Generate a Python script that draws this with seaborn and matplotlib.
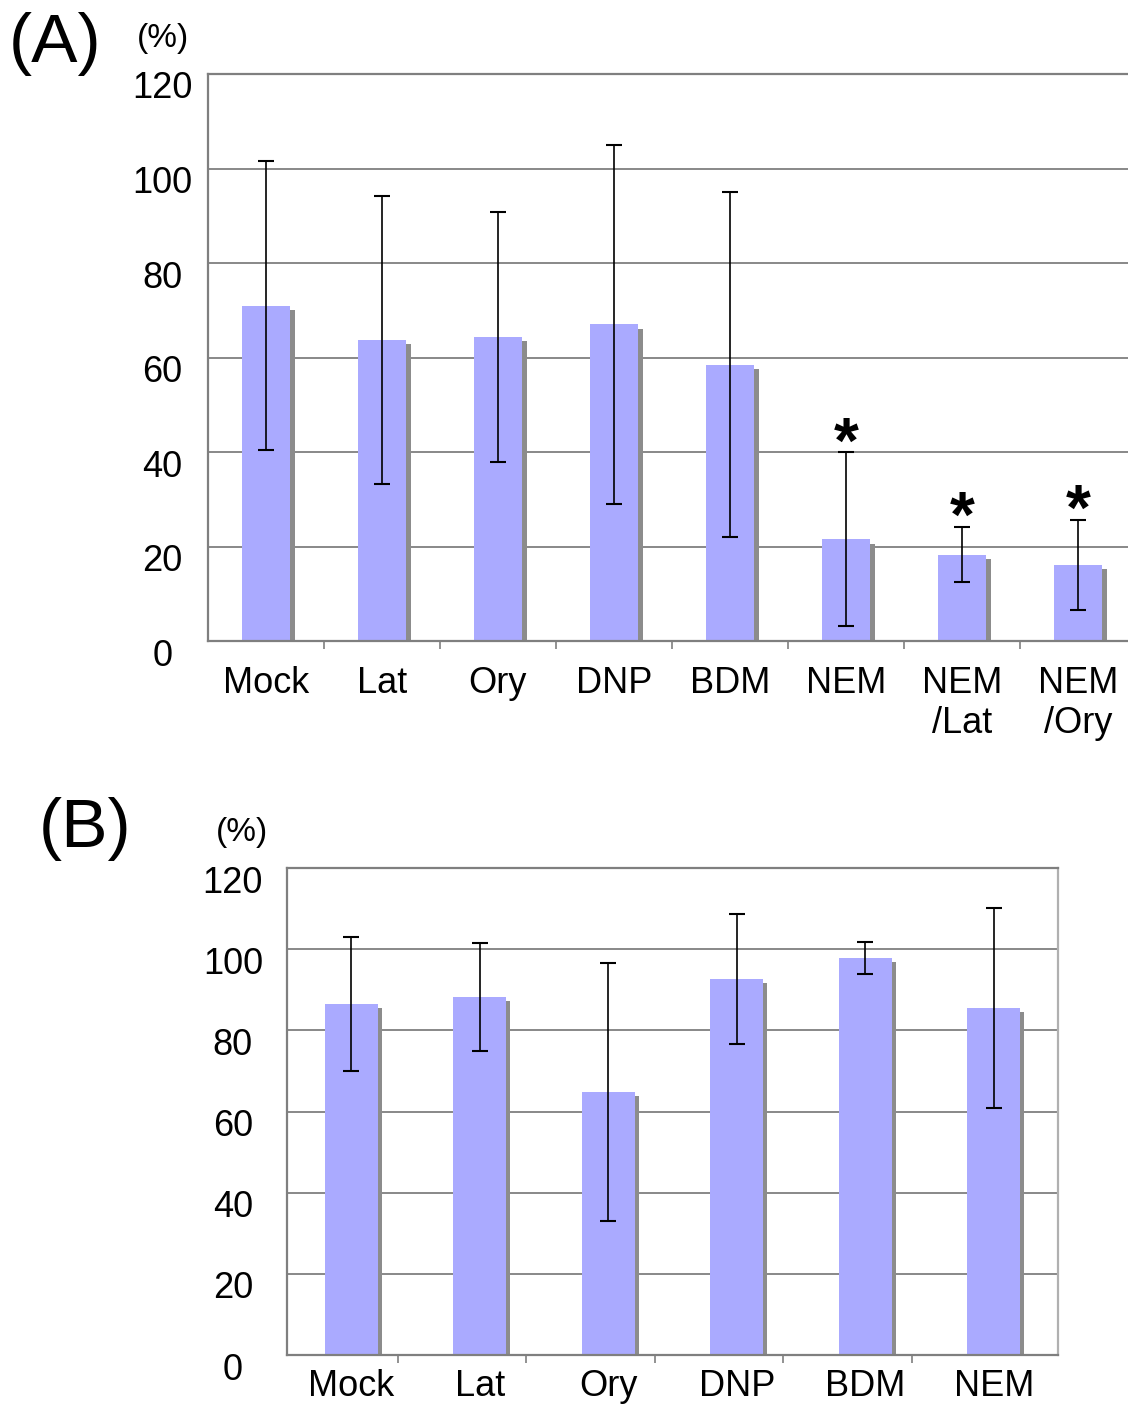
import numpy as np
import pandas as pd
import matplotlib.pyplot as plt
import matplotlib.patheffects as pe
from matplotlib.transforms import ScaledTranslation
import seaborn as sns

# Panel A data
a_groups = ['Mock', 'Lat', 'Ory', 'DNP', 'BDM', 'NEM', 'NEM\n/Lat', 'NEM\n/Ory']
a_mean = [71, 63.7, 64.3, 67, 58.5, 21.5, 18.3, 16.1]
a_sd = [30.5, 30.5, 26.4, 38, 36.5, 18.4, 5.8, 9.5]
a_sig = [False, False, False, False, False, True, True, True]

# Panel B data
b_groups = ['Mock', 'Lat', 'Ory', 'DNP', 'BDM', 'NEM']
b_mean = [86.5, 88.2, 64.8, 92.7, 97.8, 85.5]
b_sd = [16.5, 13.4, 31.8, 16, 4, 24.6]

y_ticks = [0, 20, 40, 60, 80, 100, 120]

sns.set_style('white')
plt.rcParams['font.family'] = ['Liberation Sans', 'DejaVu Sans']
plt.rcParams['text.color'] = 'black'
plt.rcParams['xtick.color'] = 'black'
plt.rcParams['ytick.color'] = 'black'

bar_color = '#aaaaff'
grid_color = '#7f7f7f'

fig = plt.figure(figsize=(11.28, 14.04), dpi=100)
W, H = 1128, 1404


def panel(rect, groups, mean, sd, width, tick_shift, ylab_pad, xlab_pad, right_spine):
    left, top, right, bottom = rect
    ax = fig.add_axes([left / W, 1 - bottom / H, (right - left) / W, (bottom - top) / H])
    df = pd.DataFrame({'group': groups, 'value': mean})
    sns.barplot(data=df, x='group', y='value', color=bar_color, saturation=1,
                width=width, errorbar=None, ax=ax, zorder=2, linewidth=0)
    # grey drop shadow on the right of each bar
    for p in ax.patches:
        p.set_path_effects([pe.SimplePatchShadow(offset=(3, -3), shadow_rgbFace='#8c8c8c', alpha=1),
                            pe.Normal()])
    n = len(groups)
    ax.errorbar(np.arange(n), mean, yerr=sd, fmt='none', ecolor='black',
                elinewidth=1.2, capsize=6, capthick=1.5, zorder=3)
    ax.set_xlim(-0.5, n - 0.5)
    ax.set_ylim(0, 120)
    ax.set_yticks(y_ticks)
    ax.yaxis.grid(True, color=grid_color, lw=1.3)
    ax.set_axisbelow(True)
    ax.set_xlabel('')
    ax.set_ylabel('')
    ax.set_xticks(np.arange(n - 1) + 0.5 + tick_shift, minor=True)
    ax.tick_params(axis='x', which='minor', length=6, width=1.2, direction='out', color=grid_color, bottom=True)
    ax.tick_params(axis='x', which='major', length=0, pad=xlab_pad, labelsize=26)
    ax.tick_params(axis='y', length=0, pad=ylab_pad, labelsize=26)
    for lab in ax.get_yticklabels():
        lab.set_horizontalalignment('center')
        lab.set_transform(lab.get_transform() + ScaledTranslation(0, -0.11, fig.dpi_scale_trans))
    for side in ['left', 'bottom', 'top']:
        ax.spines[side].set_color(grid_color)
        ax.spines[side].set_linewidth(1.6)
    ax.spines['right'].set_visible(right_spine)
    ax.spines['right'].set_color('#b0b0b0')
    ax.spines['right'].set_linewidth(1.6)
    return ax


axA = panel((208, 74, 1136, 641), a_groups, a_mean, a_sd, 0.42, 0.0, 33, 18, False)
for i, s in enumerate(a_sig):
    if s:
        axA.annotate('*', (i, a_mean[i] + a_sd[i]), xytext=(0, 5), textcoords='offset points',
                     ha='center', va='center', fontsize=46, fontweight='bold')

axB = panel((287, 868, 1058, 1355), b_groups, b_mean, b_sd, 0.41, -0.14, 39, 10, True)

fig.text(55 / W, 1 - 44 / H, '(A)', fontsize=50, ha='center', va='center')
fig.text(163 / W, 1 - 38 / H, '(%)', fontsize=24, ha='center', va='center')
fig.text(85 / W, 1 - 829 / H, '(B)', fontsize=50, ha='center', va='center')
fig.text(242 / W, 1 - 832 / H, '(%)', fontsize=24, ha='center', va='center')

fig.savefig('out.png', dpi=100)
